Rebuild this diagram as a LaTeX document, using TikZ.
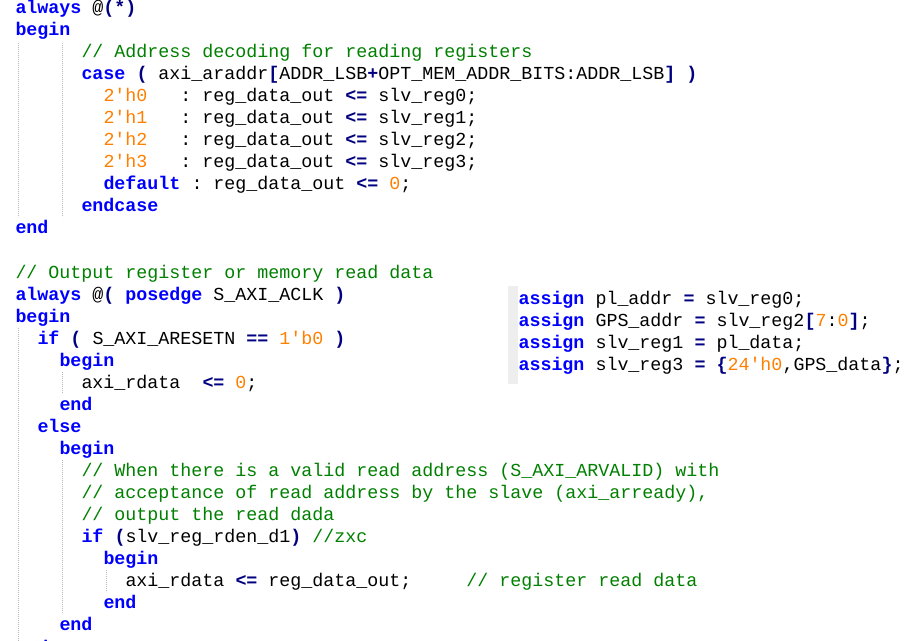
\documentclass[tikz,border=0pt]{standalone}
\usepackage{fontspec}
\setmonofont{Liberation Mono}
\definecolor{kwblue}{RGB}{0,0,255}
\definecolor{cmgreen}{RGB}{0,128,0}
\definecolor{numorange}{RGB}{255,128,0}
\definecolor{opnavy}{RGB}{0,0,128}
\newcommand{\vkw}[1]{{\bfseries\color{kwblue}#1}}
\newcommand{\vcm}[1]{{\color{cmgreen}#1}}
\newcommand{\vnum}[1]{{\color{numorange}#1}}
\newcommand{\vop}[1]{{\bfseries\color{opnavy}#1}}
\begin{document}
\begin{tikzpicture}[x=1bp,y=-1bp,
    code/.style={anchor=base west,inner sep=0pt,outer sep=0pt,
      font=\ttfamily\fontsize{18.33bp}{22bp}\selectfont},
    guide/.style={gray!55,line width=1bp,dash pattern=on 1bp off 1bp}]
        \useasboundingbox(0,0)rectangle(917,641);
        \clip(0,0)rectangle(917,641);
        \fill[white](0,0)rectangle(917,641);
        % indent guides
        \draw[guide](18,43)--(18,217);
        \draw[guide](62,43)--(62,217);
        \draw[guide](18,328)--(18,641);
        \draw[guide](62,372)--(62,393);
        \draw[guide](62,460)--(62,613);
        \draw[guide](106,570)--(106,592);
        \fill[gray!13](508,286)rectangle(518,384);
        % first always block
        \node[code](1)at(15.5,14){\vkw{always} @\vop{(*)}};
        \node[code](2)at(15.5,36){\vkw{begin}};
        \node[code](3)at(81.5,58){\vcm{// Address decoding for reading registers}};
        \node[code](4)at(81.5,80){\vkw{case} \vop{(} axi\_araddr\vop{[}ADDR\_LSB\vop{+}OPT\_MEM\_ADDR\_BITS:ADDR\_LSB\vop{]} \vop{)}};
        \node[code](5)at(103.5,102){\vnum{2'h0}~~~: reg\_data\_out \vop{<=} slv\_reg0;};
        \node[code](6)at(103.5,124){\vnum{2'h1}~~~: reg\_data\_out \vop{<=} slv\_reg1;};
        \node[code](7)at(103.5,146){\vnum{2'h2}~~~: reg\_data\_out \vop{<=} slv\_reg2;};
        \node[code](8)at(103.5,168){\vnum{2'h3}~~~: reg\_data\_out \vop{<=} slv\_reg3;};
        \node[code](9)at(103.5,190){\vkw{default} : reg\_data\_out \vop{<=} \vnum{0};};
        \node[code](10)at(81.5,212){\vkw{endcase}};
        \node[code](11)at(15.5,234){\vkw{end}};
        % second always block
        \node[code](12)at(15.5,278){\vcm{// Output register or memory read data}};
        \node[code](13)at(15.5,300){\vkw{always} @\vop{(} \vkw{posedge} S\_AXI\_ACLK \vop{)}};
        \node[code](14)at(15.5,322){\vkw{begin}};
        \node[code](15)at(37.5,344){\vkw{if} \vop{(} S\_AXI\_ARESETN \vop{==} \vnum{1'b0} \vop{)}};
        \node[code](16)at(59.5,366){\vkw{begin}};
        \node[code](17)at(81.5,388){axi\_rdata~~\vop{<=} \vnum{0};};
        \node[code](18)at(59.5,410){\vkw{end}};
        \node[code](19)at(37.5,432){\vkw{else}};
        \node[code](20)at(59.5,454){\vkw{begin}};
        \node[code](21)at(81.5,476){\vcm{// When there is a valid read address (S\_AXI\_ARVALID) with}};
        \node[code](22)at(81.5,498){\vcm{// acceptance of read address by the slave (axi\_arready),}};
        \node[code](23)at(81.5,520){\vcm{// output the read dada}};
        \node[code](24)at(81.5,542){\vkw{if} \vop{(}slv\_reg\_rden\_d1\vop{)} \vcm{//zxc}};
        \node[code](25)at(103.5,564){\vkw{begin}};
        \node[code](26)at(125.5,586){axi\_rdata \vop{<=} reg\_data\_out;~~~~~\vcm{// register read data}};
        \node[code](27)at(103.5,608){\vkw{end}};
        \node[code](28)at(59.5,630){\vkw{end}};
        \node[code](29)at(15.5,653.5){\vkw{end}};
        % assigns
        \node[code](a1)at(518.5,304){\vkw{assign} pl\_addr \vop{=} slv\_reg0;};
        \node[code](a2)at(518.5,326){\vkw{assign} GPS\_addr \vop{=} slv\_reg2\vop{[}\vnum{7}:\vnum{0}\vop{]};};
        \node[code](a3)at(518.5,348){\vkw{assign} slv\_reg1 \vop{=} pl\_data;};
        \node[code](a4)at(518.5,370){\vkw{assign} slv\_reg3 \vop{=} \vop{\{}\vnum{24'h0},GPS\_data\vop{\}};};
    \end{tikzpicture}
\end{document}
